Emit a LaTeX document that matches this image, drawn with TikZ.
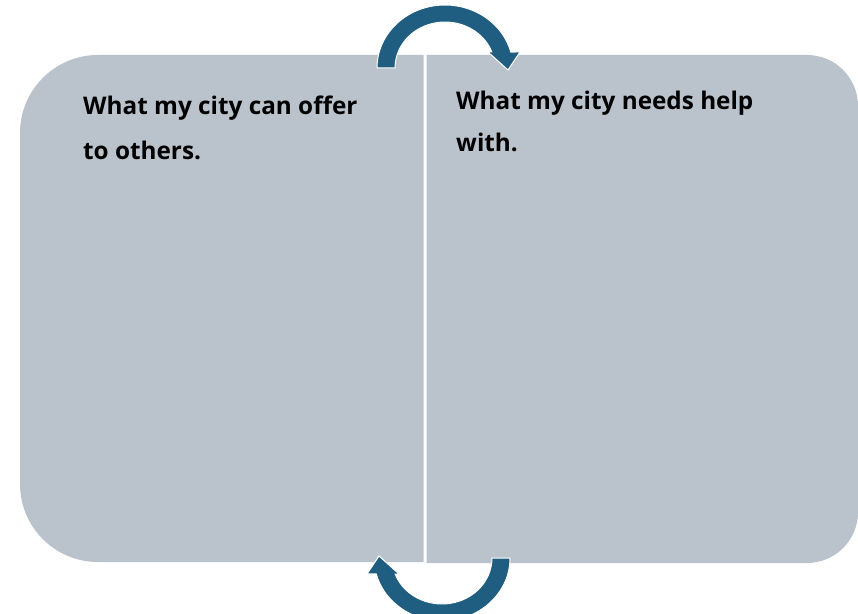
\documentclass[tikz,border=0pt]{standalone}
\usepackage{fontspec}
\setmainfont{Open Sans}
\definecolor{panelgray}{HTML}{BAC3CC}
\definecolor{arrowblue}{HTML}{1F5E80}
\begin{document}
\begin{tikzpicture}[x=1pt,y=1pt,
  panel/.style={fill=panelgray},
  arrowshape/.style={fill=arrowblue, draw=white, line width=1pt, line join=miter},
  txt/.style={font=\bfseries\fontsize{24.3}{28}\selectfont, text=black, inner sep=0pt, anchor=base west}]
\useasboundingbox (0,0) rectangle (858,613);
\fill[white] (0,0) rectangle (858,613);
% left panel
\fill[panel] (423.5,558) -- (98,558) arc[start angle=90,end angle=180,radius=78]
  -- (20,129) arc[start angle=180,end angle=270,radius=78] -- (423.5,51) -- cycle;
% right panel
\fill[panel] (426.5,558) -- (807,558) arc[start angle=90,end angle=0,radius=51]
  -- (858,101) arc[start angle=0,end angle=-90,radius=51] -- (426.5,50) -- cycle;
% top arrow
\path[arrowshape] (377,545) arc[start angle=180,end angle=14.7,x radius=68,y radius=63]
  -- (520,561) -- (508,543) -- (488,561) -- (491.9,561)
  arc[start angle=20.35,end angle=180,x radius=50,y radius=46] -- cycle;
% bottom arrow
\begin{scope}[rotate around={180:(443.5,300)}]
\path[arrowshape] (377,545) arc[start angle=180,end angle=14.7,x radius=68,y radius=63]
  -- (520,561) -- (508,543) -- (488,561) -- (491.9,561)
  arc[start angle=20.35,end angle=180,x radius=50,y radius=46] -- cycle;
\end{scope}
% texts
\node[txt] (offerA) at (83,498) {What my city can offer};
\node[txt] (offerB) at (83,453) {to others.};
\node[txt] (needA) at (456,503) {What my city needs help};
\node[txt] (needB) at (456,461) {with.};
\end{tikzpicture}
\end{document}
